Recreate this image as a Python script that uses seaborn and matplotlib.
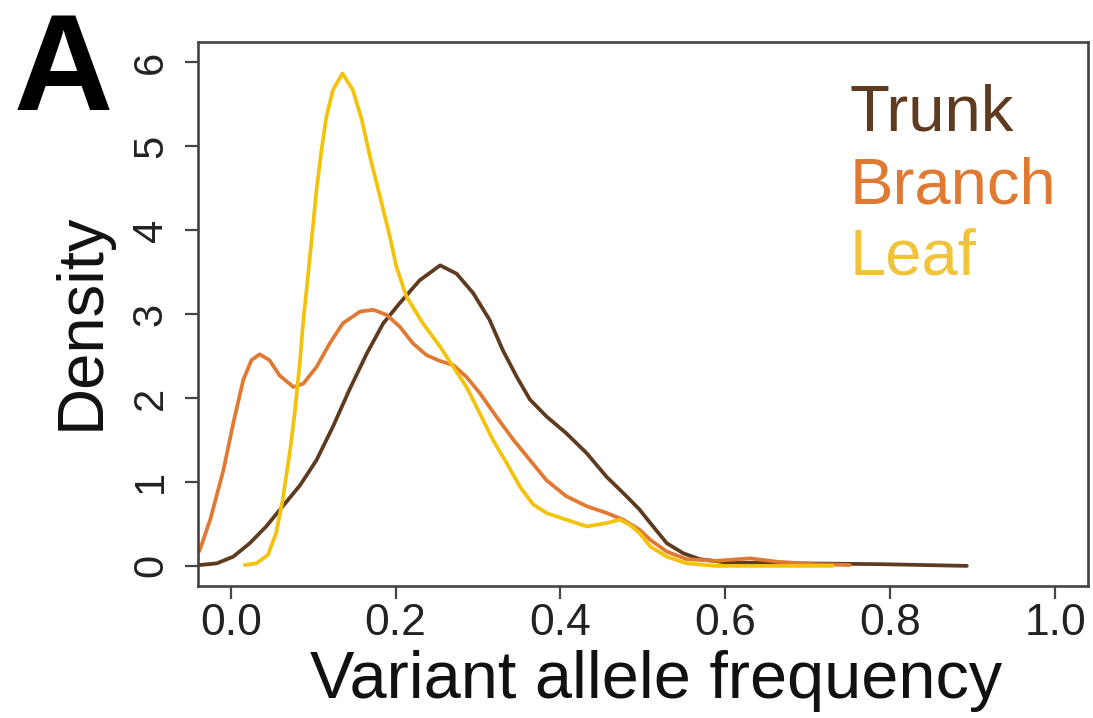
import numpy as np
import pandas as pd
import matplotlib
matplotlib.use("Agg")
import matplotlib.pyplot as plt
import seaborn as sns

# ---- data (density curves) ----
trunk_x = [-0.04, -0.038, -0.017, 0.003, 0.023, 0.043, 0.063, 0.084, 0.104, 0.124, 0.144,
           0.165, 0.185, 0.205, 0.229, 0.254, 0.274, 0.294, 0.314, 0.330, 0.347, 0.363,
           0.383, 0.407, 0.432, 0.456, 0.480, 0.496, 0.509, 0.529, 0.549, 0.569, 0.602,
           0.69, 0.79, 0.893]
trunk_y = [0.0, 0.01, 0.03, 0.11, 0.27, 0.47, 0.71, 0.96, 1.26, 1.66, 2.10,
           2.53, 2.89, 3.13, 3.40, 3.58, 3.48, 3.25, 2.93, 2.57, 2.25, 1.98,
           1.78, 1.58, 1.34, 1.06, 0.83, 0.67, 0.51, 0.27, 0.15, 0.08, 0.04,
           0.03, 0.02, 0.0]

branch_x = [-0.04, -0.0376, -0.025, -0.009, 0.003, 0.015, 0.025, 0.035, 0.047, 0.059,
            0.076, 0.088, 0.104, 0.120, 0.136, 0.157, 0.173, 0.189, 0.205, 0.221,
            0.2375, 0.254, 0.270, 0.286, 0.302, 0.322, 0.343, 0.363, 0.383, 0.407,
            0.432, 0.456, 0.476, 0.496, 0.509, 0.529, 0.553, 0.589, 0.63, 0.662,
            0.711, 0.751]
branch_y = [0.15, 0.19, 0.55, 1.14, 1.70, 2.21, 2.45, 2.52, 2.45, 2.27,
            2.13, 2.17, 2.37, 2.65, 2.89, 3.03, 3.05, 2.99, 2.85, 2.65,
            2.51, 2.44, 2.39, 2.25, 2.06, 1.78, 1.50, 1.26, 1.02, 0.83,
            0.71, 0.63, 0.55, 0.43, 0.31, 0.17, 0.08, 0.06, 0.09, 0.05,
            0.02, 0.01]

leaf_x = [0.017, 0.031, 0.045, 0.055, 0.063, 0.072, 0.078, 0.084, 0.088, 0.091, 0.098,
          0.104, 0.110, 0.116, 0.124, 0.1355, 0.148, 0.159, 0.169, 0.181, 0.193, 0.201,
          0.213, 0.233, 0.254, 0.270, 0.286, 0.302, 0.318, 0.335, 0.351, 0.367, 0.383,
          0.407, 0.432, 0.456, 0.472, 0.484, 0.496, 0.509, 0.529, 0.553, 0.589, 0.65, 0.73]
leaf_y = [0.01, 0.03, 0.13, 0.39, 0.79, 1.38, 1.86, 2.45, 2.93, 3.20, 3.88,
          4.48, 4.95, 5.35, 5.67, 5.865, 5.67, 5.31, 4.87, 4.40, 3.92, 3.56,
          3.21, 2.89, 2.61, 2.37, 2.13, 1.82, 1.50, 1.22, 0.94, 0.73, 0.63,
          0.55, 0.47, 0.51, 0.55, 0.49, 0.39, 0.23, 0.11, 0.03, 0.0, 0.0, 0.0]

tissues = ["Trunk", "Branch", "Leaf"]
line_colors = ["#5E3A1F", "#E07A33", "#F3C30C"]
text_colors = ["#5E3A1F", "#E07A33", "#EFC43A"]
x_ticks = [0.0, 0.2, 0.4, 0.6, 0.8, 1.0]
y_ticks = [0, 1, 2, 3, 4, 5, 6]

frames = []
for name, xs, ys in zip(tissues, [trunk_x, branch_x, leaf_x], [trunk_y, branch_y, leaf_y]):
    frames.append(pd.DataFrame({"vaf": xs, "density": ys, "tissue": name}))
df = pd.concat(frames, ignore_index=True)

sns.set_style("ticks")
plt.rcParams["font.family"] = ["Liberation Sans", "DejaVu Sans"]

fig = plt.figure(figsize=(10.93, 7.18), dpi=100)
ax = fig.add_axes([0.181, 0.1838, 0.8144, 0.7577])

sns.lineplot(data=df, x="vaf", y="density", hue="tissue", hue_order=tissues,
             palette=dict(zip(tissues, line_colors)), sort=False, estimator=None,
             linewidth=2.7, legend=False, ax=ax)
for ln in ax.lines:
    ln.set_solid_joinstyle("round")
    ln.set_solid_capstyle("round")

ax.set_xlim(-0.04, 1.04)
ax.set_ylim(-0.24, 6.24)
ax.set_xticks(x_ticks)
ax.set_xticklabels([f"{t:.1f}" for t in x_ticks])
ax.set_yticks(y_ticks)
ax.set_yticklabels([str(t) for t in y_ticks], rotation=90, va="center")
ax.tick_params(axis="both", length=9.4, width=1.6, colors="#444444",
               labelcolor="#222222")
ax.tick_params(axis="x", labelsize=32, pad=3)
ax.tick_params(axis="y", labelsize=30, pad=10)
for s in ax.spines.values():
    s.set_linewidth(1.9)
    s.set_color("#444444")

ax.set_xlabel("Variant allele frequency", fontsize=48, color="#111111")
ax.xaxis.set_label_coords(0.5146, -0.206)
ax.xaxis.label.set_verticalalignment("baseline")
ax.set_ylabel("Density", fontsize=47, color="#111111")
ax.yaxis.set_label_coords(-0.0966, 0.486)

for i, (name, c) in enumerate(zip(tissues, text_colors)):
    ax.text(0.7326, [0.838, 0.704, 0.572][i], name, transform=ax.transAxes,
            fontsize=47, color=c, ha="left", va="baseline")

fig.text(0.012, 0.847, "A", fontsize=99, fontweight="bold", color="black",
         ha="left", va="baseline")

fig.savefig("out.png", dpi=100, facecolor="white")
